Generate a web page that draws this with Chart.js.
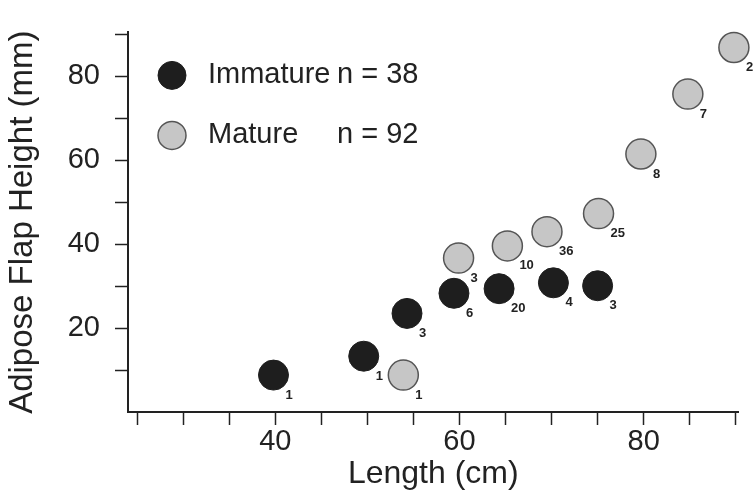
<!DOCTYPE html>
<html lang="en">

<head>
    <title>Adipose Flap Height vs Length</title>
    <script src="https://cdn.jsdelivr.net/npm/chart.js"></script>
    <style>
        body { margin: 0; background: #fff; }
    </style>
</head>

<body>
    <canvas id="myChart" width="755" height="496"></canvas>

    <script type="text/javascript">

        // values
        const immatureLength = [39.8, 49.6, 54.3, 59.4, 64.3, 70.2, 75.0];
        const immatureHeight = [8.8, 13.3, 23.5, 28.3, 29.4, 30.8, 30.1];
        const immatureCounts = ['1', '1', '3', '6', '20', '4', '3'];

        const matureLength = [53.9, 59.9, 65.2, 69.5, 75.1, 79.7, 84.8, 89.8];
        const matureHeight = [8.8, 36.7, 39.6, 43.0, 47.3, 61.5, 75.8, 86.9];
        const matureCounts = ['1', '3', '10', '36', '25', '8', '7', '2'];

        const seriesNames = ['Immature', 'Mature'];
        const seriesN = ['n = 38', 'n = 92'];

        const xLabels = [40, 60, 80];
        const yLabels = [20, 40, 60, 80];

        const FONT = "'Liberation Sans', Arial, sans-serif";
        const INK = '#222';

        const toPoints = (xs, ys) => xs.map((x, i) => ({ x: x, y: ys[i] }));

        // small counts written at the lower right of every marker
        const countLabels = {
            id: 'countLabels',
            afterDatasetsDraw(chart) {
                const { ctx } = chart;
                ctx.save();
                ctx.font = 'bold 13px ' + FONT;
                ctx.fillStyle = INK;
                ctx.textAlign = 'left';
                ctx.textBaseline = 'middle';
                chart.data.datasets.forEach((ds, i) => {
                    chart.getDatasetMeta(i).data.forEach((pt, j) => {
                        ctx.fillText(ds.counts[j], pt.x + 12, pt.y + 20);
                    });
                });
                ctx.restore();
            }
        };

        // legend in the upper left of the plot
        const insetLegend = {
            id: 'insetLegend',
            afterDraw(chart) {
                const { ctx, chartArea: { left, top } } = chart;
                ctx.save();
                chart.data.datasets.forEach((ds, i) => {
                    const cy = top + 43 + i * 60;
                    ctx.beginPath();
                    ctx.arc(left + 44, cy, 14, 0, Math.PI * 2);
                    ctx.fillStyle = ds.backgroundColor;
                    ctx.fill();
                    ctx.lineWidth = ds.borderWidth;
                    ctx.strokeStyle = ds.borderColor;
                    ctx.stroke();
                    ctx.font = '29px ' + FONT;
                    ctx.fillStyle = INK;
                    ctx.textAlign = 'left';
                    ctx.textBaseline = 'middle';
                    ctx.fillText(seriesNames[i], left + 80, cy);
                    ctx.fillText(seriesN[i], left + 209, cy);
                });
                ctx.restore();
            }
        };

        const ctx = document.getElementById('myChart');
        new Chart(ctx, {
            type: 'scatter',
            data: {
                datasets: [{
                    label: seriesNames[0],
                    data: toPoints(immatureLength, immatureHeight),
                    counts: immatureCounts,
                    backgroundColor: '#1e1e1e',
                    borderColor: '#1e1e1e',
                    borderWidth: 1,
                    pointRadius: 15,
                    clip: false
                }, {
                    label: seriesNames[1],
                    data: toPoints(matureLength, matureHeight),
                    counts: matureCounts,
                    backgroundColor: '#c6c6c6',
                    borderColor: '#555',
                    borderWidth: 1.5,
                    pointRadius: 15,
                    clip: false
                }]
            },
            options: {
                responsive: false,
                animation: false,
                events: [],
                layout: { padding: { top: 12, right: 15, left: 0, bottom: 0 } },
                plugins: {
                    legend: { display: false },
                    tooltip: { enabled: false }
                },
                scales: {
                    x: {
                        type: 'linear',
                        min: 24,
                        max: 90.3,
                        afterFit(scale) { scale.height = 84; },
                        border: { color: INK, width: 2 },
                        grid: {
                            drawOnChartArea: false,
                            drawTicks: true,
                            tickLength: 13,
                            tickWidth: 1.5,
                            tickColor: INK
                        },
                        ticks: {
                            stepSize: 5,
                            includeBounds: false,
                            autoSkip: false,
                            maxRotation: 0,
                            padding: 0,
                            color: INK,
                            font: { family: FONT, size: 29 },
                            callback: v => xLabels.includes(v) ? String(v) : ''
                        },
                        title: {
                            display: true,
                            text: 'Length (cm)',
                            color: INK,
                            font: { family: FONT, size: 32 },
                            padding: { top: 0, bottom: 3 }
                        }
                    },
                    y: {
                        type: 'linear',
                        min: 0,
                        max: 90.5,
                        afterFit(scale) { scale.width = 128; },
                        border: { color: INK, width: 2 },
                        grid: {
                            drawOnChartArea: false,
                            drawTicks: true,
                            tickLength: 13,
                            tickWidth: 1.5,
                            tickColor: c => c.tick && c.tick.value === 0 ? 'rgba(0,0,0,0)' : INK
                        },
                        ticks: {
                            stepSize: 10,
                            includeBounds: false,
                            autoSkip: false,
                            padding: 15,
                            color: INK,
                            font: { family: FONT, size: 29 },
                            callback: v => yLabels.includes(v) ? String(v) : ''
                        },
                        title: {
                            display: true,
                            text: 'Adipose Flap Height (mm)',
                            color: INK,
                            font: { family: FONT, size: 33 },
                            padding: { top: 3, bottom: 0 }
                        }
                    }
                }
            },
            plugins: [countLabels, insetLegend]
        });
    </script>
</body>

</html>
